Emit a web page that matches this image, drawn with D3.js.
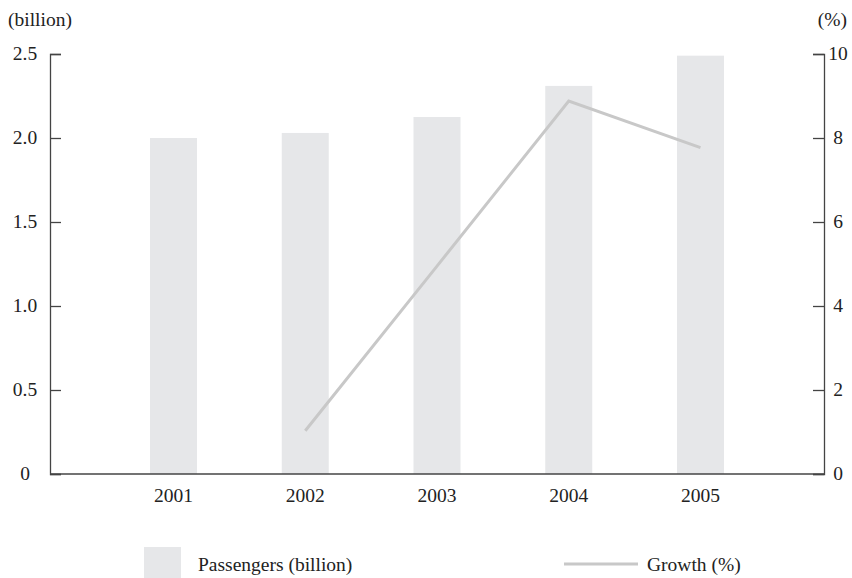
<!DOCTYPE html>
<html>
<head>
<meta charset="utf-8">
<script src="https://cdn.jsdelivr.net/npm/d3@7"></script>
<style>
    body { margin: 0; background: #fff; }
    text { font-family: "Liberation Serif", "Times New Roman", serif; fill: #222; }
</style>
</head>
<body>
<div id="chart"></div>
<script>
// passengers (billion) and yearly growth (%)
const years = ["2001", "2002", "2003", "2004", "2005"];
const passengers = [2.0, 2.03, 2.125, 2.31, 2.49];
const growthYears = ["2002", "2003", "2004", "2005"];
const growth = [1.03, 4.95, 8.88, 7.77];
const leftTicks = [0, 0.5, 1.0, 1.5, 2.0, 2.5];
const rightTicks = [0, 2, 4, 6, 8, 10];

var width = 852;
var height = 578;
const margins = {top: 54, bottom: 104, left: 50, right: 28};

var svg = d3.select('#chart')
    .append('svg')
    .attr('width', width)
    .attr('height', height);

var x_scale = d3.scalePoint()
    .domain(years)
    .range([margins.left, width - margins.right])
    .padding(0.9375);

var y_left = d3.scaleLinear()
    .domain([0, 2.5])
    .range([height - margins.bottom, margins.top]);

var y_right = d3.scaleLinear()
    .domain([0, 10])
    .range([height - margins.bottom, margins.top]);

var bar_w = 47;
var fontSize = "19.5px";

// bars
svg.selectAll('rect.bar')
    .data(passengers)
    .enter()
    .append('rect')
    .attr('class', 'bar')
    .attr('x', (d, i) => x_scale(years[i]) - bar_w / 2)
    .attr('y', d => y_left(d))
    .attr('width', bar_w)
    .attr('height', d => y_left(0) - y_left(d))
    .attr('fill', '#e6e7e9');

// growth line
var line = d3.line()
    .x((d, i) => x_scale(growthYears[i]))
    .y(d => y_right(d));

svg.append('path')
    .datum(growth)
    .attr('d', line)
    .attr('fill', 'none')
    .attr('stroke', '#c8c8c8')
    .attr('stroke-width', 3);

// left axis
var leftAxis = svg.append('g')
    .attr('transform', 'translate(' + margins.left + ',0)')
    .call(d3.axisRight(y_left).tickValues(leftTicks).tickSize(11).tickFormat(d => d === 0 ? "0" : d3.format(".1f")(d)));
leftAxis.select('.domain').attr('stroke', '#444').attr('stroke-width', 1.3);
leftAxis.selectAll('.tick line').attr('stroke', '#444').attr('stroke-width', 1.3);
leftAxis.selectAll('.tick text')
    .attr('x', -25)
    .attr('dy', '0.3em')
    .attr('text-anchor', 'middle')
    .style('font-size', fontSize)
    .style('font-family', '"Liberation Serif", serif');

// right axis
var rightAxis = svg.append('g')
    .attr('transform', 'translate(' + (width - margins.right) + ',0)')
    .call(d3.axisLeft(y_right).tickValues(rightTicks).tickSize(11));
rightAxis.select('.domain').attr('stroke', '#444').attr('stroke-width', 1.3);
rightAxis.selectAll('.tick line').attr('stroke', '#444').attr('stroke-width', 1.3);
rightAxis.selectAll('.tick text')
    .attr('x', 14)
    .attr('dy', '0.3em')
    .attr('text-anchor', 'middle')
    .style('font-size', fontSize)
    .style('font-family', '"Liberation Serif", serif');

// bottom axis
svg.append('line')
    .attr('x1', margins.left)
    .attr('x2', width - margins.right)
    .attr('y1', y_left(0))
    .attr('y2', y_left(0))
    .attr('stroke', '#444')
    .attr('stroke-width', 1.3);

svg.selectAll('text.year')
    .data(years)
    .enter()
    .append('text')
    .attr('class', 'year')
    .attr('x', d => x_scale(d))
    .attr('y', y_left(0) + 28)
    .attr('text-anchor', 'middle')
    .attr('font-size', fontSize)
    .text(d => d);

// unit labels
svg.append('text')
    .attr('x', 8)
    .attr('y', 26)
    .attr('font-size', fontSize)
    .text('(billion)');

svg.append('text')
    .attr('x', 847)
    .attr('y', 26)
    .attr('text-anchor', 'end')
    .attr('font-size', fontSize)
    .text('(%)');

// legend
svg.append('rect')
    .attr('x', 144)
    .attr('y', 547)
    .attr('width', 37)
    .attr('height', 31)
    .attr('fill', '#e6e7e9');

svg.append('text')
    .attr('x', 198)
    .attr('y', 571)
    .attr('font-size', fontSize)
    .text('Passengers (billion)');

svg.append('line')
    .attr('x1', 564)
    .attr('x2', 638)
    .attr('y1', 564)
    .attr('y2', 564)
    .attr('stroke', '#c8c8c8')
    .attr('stroke-width', 3);

svg.append('text')
    .attr('x', 647)
    .attr('y', 571)
    .attr('font-size', fontSize)
    .text('Growth (%)');
</script>
</body>
</html>
